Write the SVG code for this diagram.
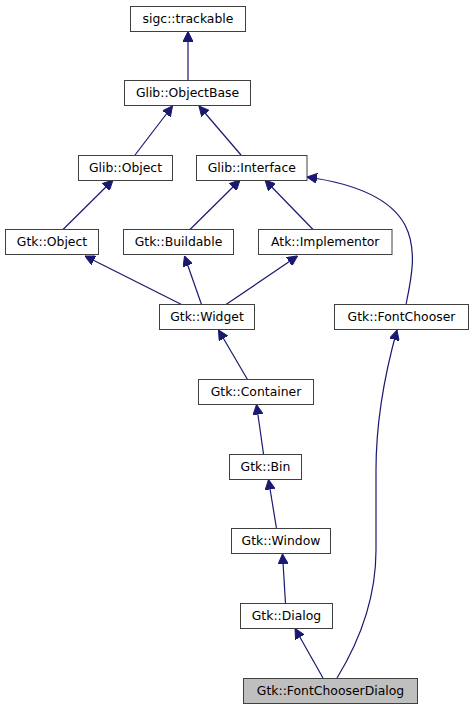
<svg xmlns="http://www.w3.org/2000/svg" width="473" height="709" viewBox="0 0 473 709">
<style>
.n rect{fill:#ffffff;stroke:#404040;stroke-width:1}
.n.cur rect{fill:#bfbfbf}
.n text{font-family:"DejaVu Sans",sans-serif;font-size:12.4px;fill:#000;text-anchor:middle}
.e path{fill:none;stroke:#191970;stroke-width:1.2;marker-end:url(#ah)}
</style>
<defs>
<marker id="ah" markerUnits="userSpaceOnUse" viewBox="0 0 10 10" refX="10" refY="5" markerWidth="10" markerHeight="10" orient="auto">
<path d="M0,0 L10,5 L0,10 z" fill="#191970" stroke="#191970" stroke-width="1"/>
</marker>
</defs>
<rect width="473" height="709" fill="#ffffff"/>
<g id="edges" class="e">
<path d="M188,80.5 L188,31.5"/>
<path d="M135,155 L172.5,106"/>
<path d="M241,155 L199,106"/>
<path d="M63,229.5 L113,180"/>
<path d="M190,229.5 L240,180"/>
<path d="M313,229.5 L265,180"/>
<path d="M406,304.5 C411,280 418,250 405,225 C390,197 350,183 307,177"/>
<path d="M181.5,304.5 L85,256"/>
<path d="M201.5,304.5 L184.5,256"/>
<path d="M226,304.5 L297.5,256"/>
<path d="M247.5,379.5 L218.5,330"/>
<path d="M337,678 C356,647 376,602 376,550 L376,470 C376,420 385,373 397,330"/>
<path d="M263.5,454 L256.5,404.5"/>
<path d="M276.5,528.5 L268.5,479.5"/>
<path d="M285.5,603.5 L282.5,554"/>
<path d="M323,678 L295,628.5"/>
</g>
<g id="sigc_trackable" class="n"><rect x="130.5" y="6.5" width="115" height="25"/><text x="188" y="23">sigc::trackable</text></g>
<g id="Glib_ObjectBase" class="n"><rect x="124.5" y="80.5" width="126" height="25"/><text x="187.5" y="97">Glib::ObjectBase</text></g>
<g id="Glib_Object" class="n"><rect x="78.5" y="155.5" width="94" height="25"/><text x="125.5" y="172">Glib::Object</text></g>
<g id="Glib_Interface" class="n"><rect x="196.5" y="155.5" width="110.5" height="25"/><text x="251.75" y="172">Glib::Interface</text></g>
<g id="Gtk_Object" class="n"><rect x="5.5" y="229.5" width="93" height="25"/><text x="52" y="246">Gtk::Object</text></g>
<g id="Gtk_Buildable" class="n"><rect x="123.5" y="229.5" width="110" height="25"/><text x="178.5" y="246">Gtk::Buildable</text></g>
<g id="Atk_Implementor" class="n"><rect x="258.5" y="229.5" width="133.5" height="25"/><text x="325.25" y="246">Atk::Implementor</text></g>
<g id="Gtk_Widget" class="n"><rect x="159.5" y="304.5" width="95" height="25"/><text x="207" y="321">Gtk::Widget</text></g>
<g id="Gtk_FontChooser" class="n"><rect x="334.5" y="304.5" width="134" height="25"/><text x="401.5" y="321">Gtk::FontChooser</text></g>
<g id="Gtk_Container" class="n"><rect x="198.5" y="379.5" width="115" height="25"/><text x="256" y="396">Gtk::Container</text></g>
<g id="Gtk_Bin" class="n"><rect x="229.5" y="454.5" width="72" height="25"/><text x="265.5" y="471">Gtk::Bin</text></g>
<g id="Gtk_Window" class="n"><rect x="231.5" y="528.5" width="99" height="25"/><text x="281" y="545">Gtk::Window</text></g>
<g id="Gtk_Dialog" class="n"><rect x="240.5" y="603.5" width="92" height="25"/><text x="286.5" y="620">Gtk::Dialog</text></g>
<g id="Gtk_FontChooserDialog" class="n cur"><rect x="243.5" y="678.5" width="174" height="25"/><text x="330.5" y="695">Gtk::FontChooserDialog</text></g>
</svg>
